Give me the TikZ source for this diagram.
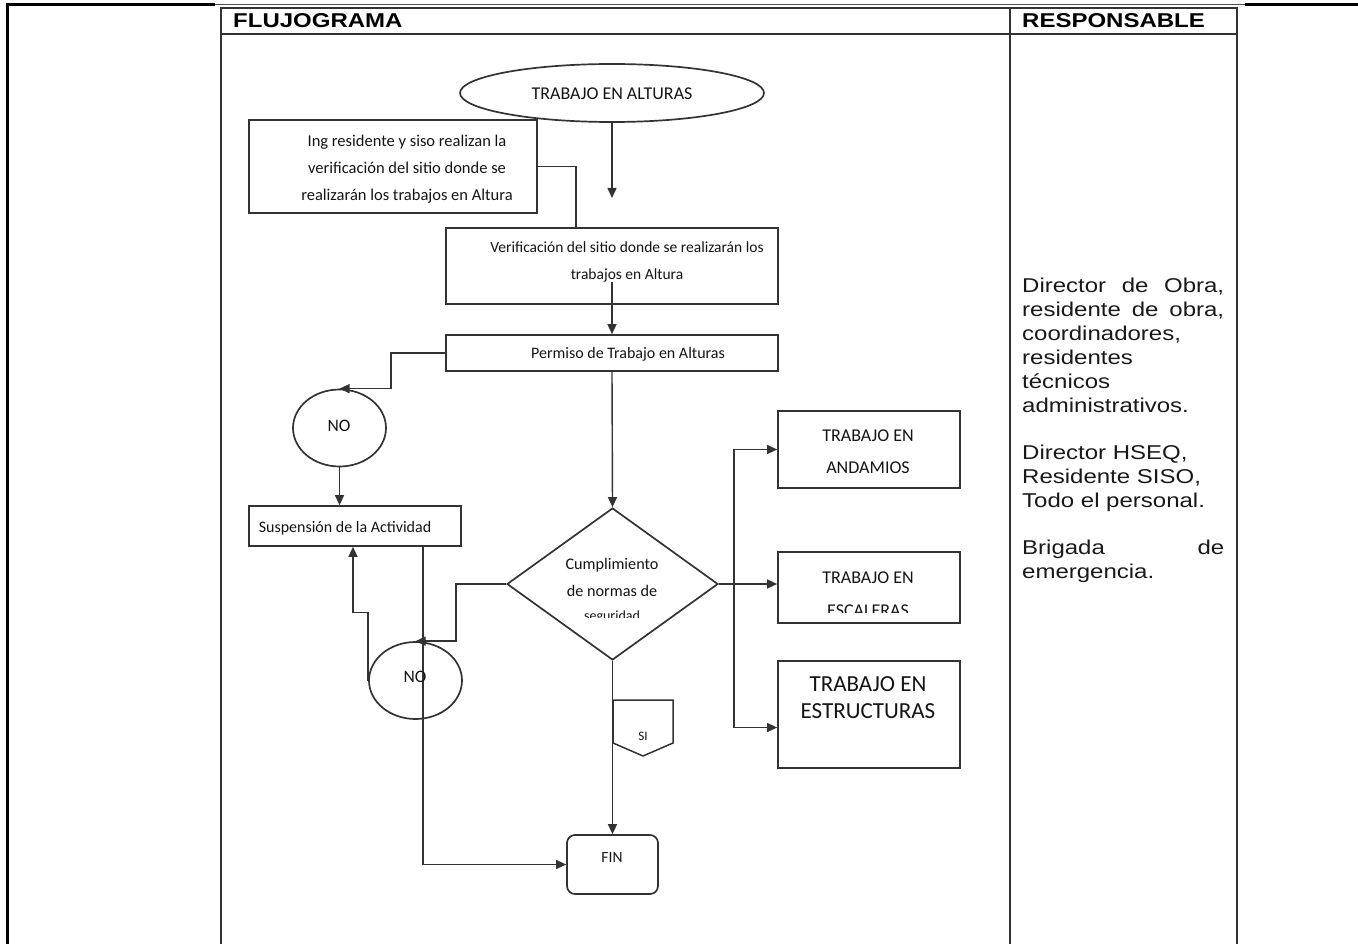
\documentclass[tikz,border=0pt]{standalone}
\usepackage{fontspec}
\setmainfont{Liberation Sans}
\newfontfamily\arialx[FakeStretch=1.2]{Liberation Sans}
\newfontfamily\calib{Carlito}
\usetikzlibrary{shapes.geometric,arrows.meta}
\newcommand\flowfont[2]{\calib\fontsize{#1}{#2}\selectfont}
\begin{document}
\begin{tikzpicture}[x=1pt,y=-1pt,
  ln/.style={draw=black!80, line width=1.4pt},
  arr/.style={ln, -{Triangle[length=10pt,width=9pt]}},
  box/.style={draw=black!80, line width=1.7pt, rectangle, inner sep=0pt},
  oval/.style={draw=black!80, line width=1.7pt, ellipse, inner sep=0pt},
  txt/.style={text=black!92, align=center, inner sep=0pt},
  resp/.style={text=black!90, align=left, inner sep=0pt, font={\arialx\fontsize{20}{24}\selectfont}},
  head/.style={text=black, inner sep=0pt, font={\arialx\bfseries\fontsize{20}{24}\selectfont}}]
\useasboundingbox (0,0) rectangle (1358,944);

% outer page frame
\draw[line width=3pt] (7,944) -- (7,5) -- (215,5);
\draw[line width=1pt, black!70] (215,5) -- (1245,5);
\draw[line width=3pt] (1245,5) -- (1358,5);

% table
\draw[line width=1.8pt, black!80] (221,944) -- (221,8) -- (1237,8) -- (1237,944);
\draw[line width=1.8pt, black!80] (221,34) -- (1237,34);
\draw[line width=1.8pt, black!80] (1010,8) -- (1010,944);
\node[head, anchor=west] (hflujo) at (233,21) {FLUJOGRAMA};
\node[head, anchor=west] (hresp) at (1022,21) {RESPONSABLE};

% responsible text
\node[resp, anchor=north west] (resptext) at (1022,278) {%
\makebox[202pt][s]{Director de Obra,}\\
\makebox[202pt][s]{residente de obra,}\\
coordinadores,\\
residentes\\
técnicos\\
administrativos.\\[23pt]
Director HSEQ,\\
Residente SISO,\\
Todo el personal.\\[23pt]
\makebox[202pt][s]{Brigada de}\\
emergencia.};

% flowchart shapes
\node[oval, minimum width=304, minimum height=58] (start) at (612,93) {};
\node[txt, font={\flowfont{18}{22}}] (starttxt) at (612,94) {TRABAJO EN ALTURAS};

\node[box, minimum width=288, minimum height=93] (b1) at (393,166.5) {};
\node[txt, font={\flowfont{16.5}{27}}] (b1txt) at (407,169) {Ing residente y siso realizan la\\verificación del sitio donde se\\realizarán los trabajos en Altura};

\node[box, minimum width=332, minimum height=76] (b2) at (612,266) {};
\node[txt, font={\flowfont{15.5}{27}}] (b2txt) at (627,262) {Verificación del sitio donde se realizarán los\\trabajos en Altura};

\node[box, minimum width=332, minimum height=36] (b3) at (612,353) {};
\node[txt, font={\flowfont{16}{20}}] (b3txt) at (628,354) {Permiso de Trabajo en Alturas};

\node[oval, minimum width=93, minimum height=77] (no1) at (339.5,428) {};
\node[txt, font={\flowfont{17.5}{20}}] (no1txt) at (339,426) {NO};

\node[box, minimum width=212, minimum height=40] (susp) at (355,526) {};
\node[txt, font={\flowfont{16}{20}}] (susptxt) at (345,528) {Suspensión de la Actividad};

\node[draw=black!80, line width=1.7pt, diamond, minimum width=211, minimum height=152, inner sep=0pt] (dia) at (612.5,584) {};
\node[txt, font={\flowfont{16.2}{27}}] (diatxt) at (612,577) {Cumplimiento\\de normas de};
\begin{scope}
\clip (560,610) rectangle (670,617);
\node[txt, font={\flowfont{14}{20}}] (diatxt2) at (612,617) {seguridad};
\end{scope}

\node[oval, minimum width=93, minimum height=77] (no2) at (415.5,680.5) {};

\node[box, minimum width=182, minimum height=77] (and) at (869,449.5) {};
\node[txt, font={\flowfont{18}{32}}] (andtxt) at (868,452) {TRABAJO EN\\ANDAMIOS};

\node[box, minimum width=182, minimum height=71] (esc) at (869,587.5) {};
\node[txt, font={\flowfont{18}{20}}] (esctxt) at (868,578) {TRABAJO EN};
\begin{scope}
\clip (800,595) rectangle (940,612.5);
\node[txt, font={\flowfont{18}{20}}] (esctxt2) at (868,611) {ESCALERAS};
\end{scope}

\node[box, minimum width=182, minimum height=107] (est) at (869,714.5) {};
\node[txt, font={\flowfont{23}{27}}] (esttxt) at (868,697.5) {TRABAJO EN\\ESTRUCTURAS};

% SI off-page connector
\draw[draw=black!80, line width=1.5pt] (613,700) -- (673,700) -- (673,743) -- (643,756) -- (613,743) -- cycle;
\begin{scope}
\clip (620,727) rectangle (666,741);
\node[txt, font={\flowfont{13}{16}}] (sitxt) at (643,736) {SI};
\end{scope}

\node[draw=black!80, line width=1.7pt, rectangle, rounded corners=8pt, minimum width=91, minimum height=59, inner sep=0pt] (fin) at (612.5,864.5) {};
\node[txt, font={\flowfont{15.5}{20}}] (fintxt) at (612,858) {FIN};

% connectors
\coordinate (a1) at (612,198);
\draw[arr] (start.south) -- (a1);
\draw[ln] (b1.east) -| ([xshift=-36pt]b2.north);
\coordinate (c2) at (612,282);
\draw[arr] (c2) -- (b3.north);
\draw[arr] (b3.west) -- ++(-54,0) |- (no1.north);
\draw[arr] (no1.south) -- (no1.south |- susp.north);
\draw[arr] (b3.south) -- (dia.north);
\draw[arr] (dia.west) -- ++(-50,0) |- (no2.north);
\draw[arr] (no2.west) -- ++(0,-68) -| ([xshift=-2pt]susp.south);
\draw[arr] ([xshift=68pt]susp.south) |- (fin.west);
\node[txt, font={\flowfont{17.5}{20}}] (no2txt) at (415,677) {NO};
\draw[arr] (dia.south) -- (fin.north);
\coordinate (j) at (734,584);
\draw[ln] (dia.east) -- (j);
\draw[arr] (j) |- (and.west);
\draw[arr] (j) -- (j -| esc.west);
\draw[arr] (j) |- ([yshift=-13pt]est.west);
\end{tikzpicture}
\end{document}
